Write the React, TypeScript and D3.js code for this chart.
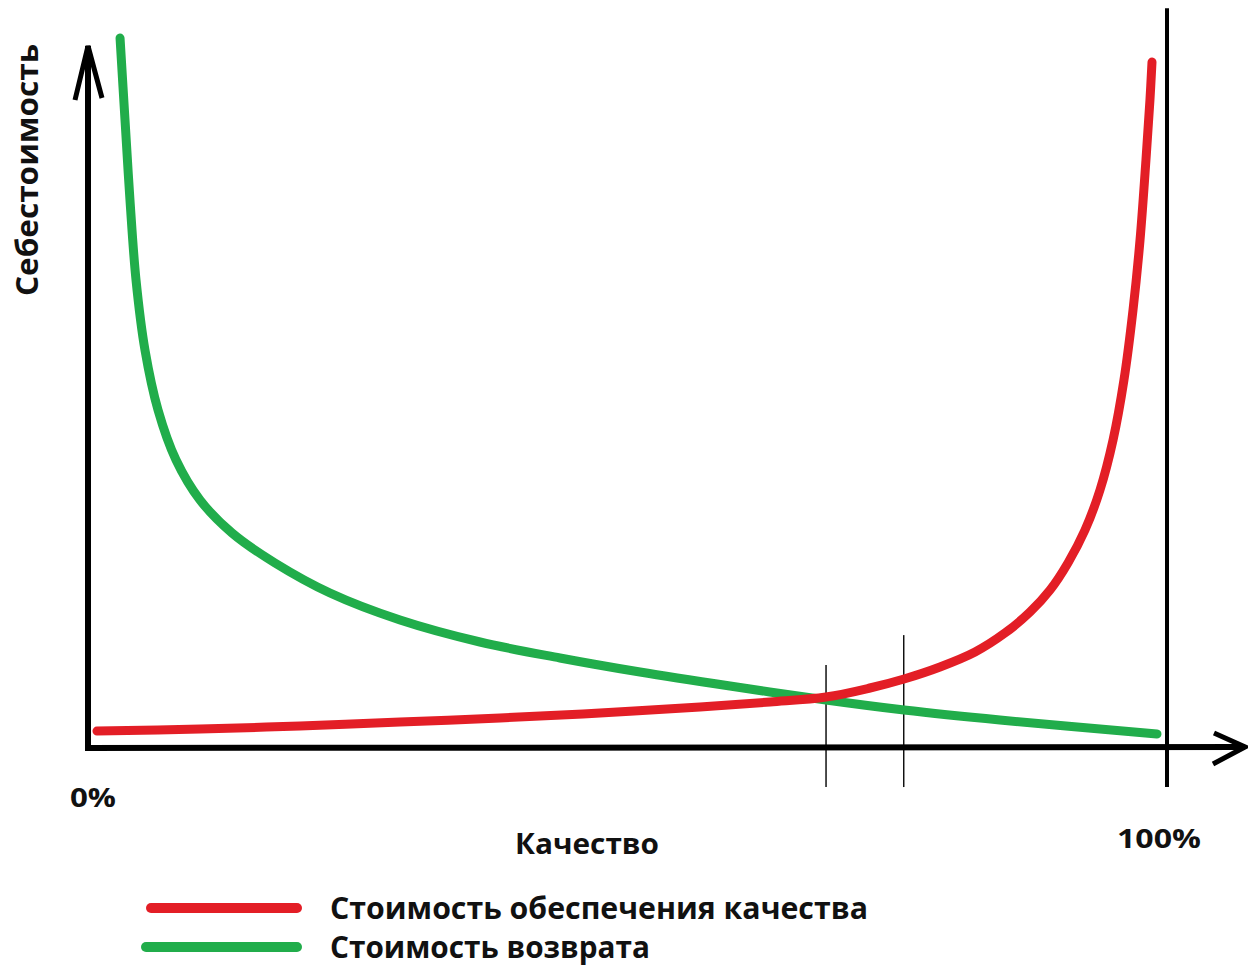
import { useEffect, useRef } from 'react';
import * as d3 from 'd3';

// Качество (%) по оси X, себестоимость (условные единицы 0..100) по оси Y
const returnCostX = [2.97, 3.43, 3.89, 4.45, 5.28, 6.49, 8.16, 10.38, 13.35, 17.33, 22.43, 28.92, 36.33, 43.74, 51.16, 59.5, 68.4, 75.63, 84.52, 99.07];
const returnCostY = [100, 88.45, 77.18, 65.92, 56.06, 47.61, 40.56, 34.93, 30.28, 26.06, 21.83, 18.03, 14.93, 12.68, 10.7, 8.73, 6.76, 5.35, 3.94, 1.97];

const qualityCostX = [0.83, 10.38, 19.65, 28.92, 38.18, 47.45, 56.72, 63.21, 68.4, 72.47, 75.63, 78.96, 82.21, 84.99, 87.3, 89.16, 90.82, 92.4, 93.79, 95.0, 96.01, 96.85, 97.5, 98.05, 98.42, 98.61];
const qualityCostY = [2.39, 2.68, 3.1, 3.66, 4.23, 4.93, 5.77, 6.48, 7.18, 8.45, 9.72, 11.41, 13.52, 16.2, 19.15, 22.25, 26.06, 30.7, 36.34, 43.38, 51.83, 61.69, 71.55, 82.82, 91.27, 96.62];

// вертикальные отметки: положение по X и верхний край
const markerX = [68.4, 75.6];
const markerTop = [11.7, 15.9];

const legendLabels = ['Стоимость обеспечения качества', 'Стоимость возврата'];

const RED = '#e31e26';
const GREEN = '#21ad4b';
const FONT = '"Open Sans", "DejaVu Sans", sans-serif';

const WIDTH = 1248;
const HEIGHT = 966;

export default function App() {
  const svgRef = useRef<SVGSVGElement>(null);

  useEffect(() => {
    if (!svgRef.current) return;
    const svg = d3.select(svgRef.current);
    svg.selectAll('*').remove();

    const x = d3.scaleLinear().domain([0, 100]).range([88, 1167]);
    const y = d3.scaleLinear().domain([0, 100]).range([748, 38]);

    svg.append('rect').attr('width', WIDTH).attr('height', HEIGHT).attr('fill', '#fff');

    // Линия 100%
    svg.append('line')
      .attr('x1', x(100)).attr('x2', x(100))
      .attr('y1', y(104.2)).attr('y2', y(-5.5))
      .attr('stroke', '#000').attr('stroke-width', 4);

    // Отметки пересечений
    markerX.forEach((mx, i) => {
      svg.append('line')
        .attr('x1', x(mx)).attr('x2', x(mx))
        .attr('y1', y(markerTop[i])).attr('y2', y(-5.5))
        .attr('stroke', '#111').attr('stroke-width', 1.5);
    });

    // Ось Y
    svg.append('line')
      .attr('x1', x(0)).attr('x2', x(0))
      .attr('y1', 46).attr('y2', y(0) + 3)
      .attr('stroke', '#000').attr('stroke-width', 6);
    svg.append('path')
      .attr('d', `M${x(0) - 13},100 L${x(0)},46 L${x(0) + 14},98`)
      .attr('fill', 'none').attr('stroke', '#000').attr('stroke-width', 5)
      .attr('stroke-linejoin', 'miter');

    // Ось X
    svg.append('line')
      .attr('x1', x(0) - 3).attr('x2', 1244)
      .attr('y1', y(0)).attr('y2', y(0) - 1)
      .attr('stroke', '#000').attr('stroke-width', 6);
    svg.append('path')
      .attr('d', `M1214,733 L1245,747 L1213,764`)
      .attr('fill', 'none').attr('stroke', '#000').attr('stroke-width', 5);

    const line = d3.line<number>()
      .x((d) => x(d))
      .curve(d3.curveCatmullRom.alpha(0.5));

    svg.append('path')
      .attr('d', line.y((_, i) => y(returnCostY[i]))(returnCostX))
      .attr('fill', 'none').attr('stroke', GREEN).attr('stroke-width', 9)
      .attr('stroke-linecap', 'round');

    svg.append('path')
      .attr('d', line.y((_, i) => y(qualityCostY[i]))(qualityCostX))
      .attr('fill', 'none').attr('stroke', RED).attr('stroke-width', 9)
      .attr('stroke-linecap', 'round');

    // Подписи
    const text = (tx: number, ty: number, str: string, size: number, len: number, rotate = false) => {
      const t = svg.append('text')
        .attr('x', tx).attr('y', ty)
        .attr('font-family', FONT)
        .attr('font-weight', 'bold')
        .attr('font-size', size)
        .attr('fill', '#111')
        .attr('textLength', len)
        .attr('lengthAdjust', 'spacingAndGlyphs')
        .text(str);
      if (rotate) t.attr('transform', `rotate(-90, ${tx}, ${ty})`);
      return t;
    };

    text(38, 296, 'Себестоимость', 30, 252, true);
    text(70, 807, '0%', 26, 46);
    text(1117, 848, '100%', 26, 84);
    text(515, 854, 'Качество', 28, 144);

    // Легенда
    const legendY = [908, 947];
    const legendColors = [RED, GREEN];
    const legendStart = [151, 146];
    const legendLen = [538, 320];
    legendLabels.forEach((lab, i) => {
      svg.append('line')
        .attr('x1', legendStart[i]).attr('x2', 297)
        .attr('y1', legendY[i]).attr('y2', legendY[i])
        .attr('stroke', legendColors[i]).attr('stroke-width', 10)
        .attr('stroke-linecap', 'round');
      text(330, legendY[i] + 11, lab, 30, legendLen[i]);
    });
  }, []);

  return (
    <svg
      ref={svgRef}
      width={WIDTH}
      height={HEIGHT}
      style={{ position: 'absolute', left: 0, top: 0, display: 'block' }}
    />
  );
}
